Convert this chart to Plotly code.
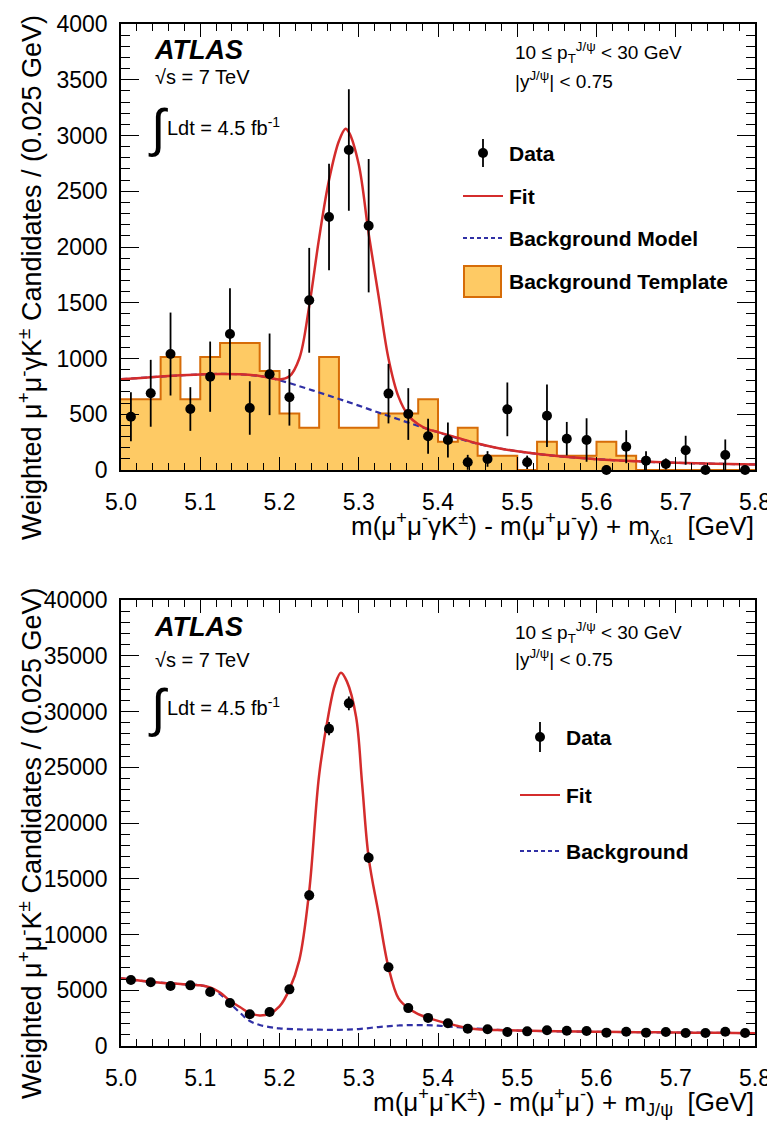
import plotly.graph_objects as go

# ---------------- data ----------------
bin_lo = 5.0
bin_w = 0.025
n_bins = 32

top_data = [478, 688, 1040, 547, 837, 1220, 556, 858, 652, 1522, 2269, 2870, 2191, 685, 502, 302,
            269, 69, 99, 544, 69, 487, 281, 269, 0, 209, 84, 54, 177, 0, 135, 0]
top_err = [220, 300, 372, 196, 315, 410, 240, 366, 254, 470, 478, 545, 598, 267, 232, 157,
           158, 67, 70, 241, 60, 280, 150, 195, 40, 148, 85, 50, 130, 40, 139, 40]
top_template = [634, 634, 1013, 634, 1013, 1140, 1140, 887, 507, 380, 1013, 380, 380, 507, 507, 634,
                253, 380, 127, 127, 0, 253, 127, 127, 253, 127, 0, 0, 0, 0, 0, 0]

top_fit_x = [5.0, 5.025, 5.05, 5.075, 5.1, 5.125, 5.15, 5.175, 5.19, 5.2, 5.2125, 5.225, 5.2375, 5.25,
             5.2625, 5.275, 5.2833, 5.2875, 5.3, 5.3125, 5.325, 5.3375, 5.35, 5.3625, 5.375, 5.3875,
             5.4, 5.425, 5.45, 5.475, 5.5, 5.55, 5.6, 5.65, 5.7, 5.75, 5.8]
top_fit_y = [815, 826, 838, 849, 857, 862, 858, 843, 823, 812, 840, 1000, 1470, 2080,
             2600, 2950, 3060, 3030, 2740, 2120, 1560, 1000, 660, 490, 410, 365,
             340, 288, 238, 198, 168, 125, 97, 78, 65, 56, 50]
top_bkg_x = [5.0, 5.025, 5.05, 5.075, 5.1, 5.125, 5.15, 5.175, 5.19, 5.2, 5.225, 5.25, 5.275, 5.3,
             5.325, 5.35, 5.375, 5.4, 5.425, 5.45, 5.475, 5.5, 5.55, 5.6, 5.65, 5.7, 5.75, 5.8]
top_bkg_y = [815, 826, 838, 849, 857, 862, 858, 843, 823, 805, 752, 695, 637, 577,
             515, 455, 395, 338, 284, 236, 197, 168, 125, 97, 78, 65, 56, 50]

bot_data = [5920, 5710, 5380, 5440, 4840, 3860, 2840, 3050, 5080, 13510, 28460, 30730, 16890, 7060,
            3400, 2520, 2040, 1555, 1495, 1256, 1315, 1405, 1375, 1345, 1196, 1285, 1196, 1256,
            1166, 1166, 1285, 1166]
bot_err = [300, 300, 290, 290, 280, 260, 240, 250, 300, 450, 600, 620, 480, 330,
           230, 200, 180, 160, 160, 150, 150, 155, 155, 150, 145, 150, 145, 150, 145, 145, 150, 145]

bot_fit_x = [5.0, 5.025, 5.05, 5.075, 5.1, 5.1125, 5.125, 5.1375, 5.15, 5.1625, 5.175, 5.1875, 5.2,
             5.2125, 5.225, 5.2375, 5.25, 5.2625, 5.27, 5.2775, 5.285, 5.2966, 5.3042, 5.3125,
             5.325, 5.3375, 5.35, 5.3625, 5.375, 5.3875, 5.4, 5.4125, 5.425, 5.4375, 5.45, 5.475,
             5.5, 5.55, 5.6, 5.65, 5.7, 5.75, 5.8]
bot_fit_y = [6070, 5850, 5680, 5560, 5440, 5250, 4800, 4050, 3500, 2950, 2740, 2900, 3550,
             5080, 7700, 13900, 24300, 30000, 32400, 33480, 32700, 29530, 23560, 16900,
             11900, 7060, 4300, 3400, 2850, 2520, 2250, 2030, 1800, 1600, 1500, 1430,
             1380, 1320, 1270, 1240, 1210, 1180, 1150]
bot_bkg_x = [5.0, 5.025, 5.05, 5.075, 5.1, 5.1125, 5.125, 5.1375, 5.15, 5.1625, 5.175, 5.1875, 5.2,
             5.225, 5.25, 5.275, 5.3, 5.325, 5.35, 5.375, 5.4, 5.425, 5.45, 5.475, 5.5, 5.55, 5.6,
             5.65, 5.7, 5.75, 5.8]
bot_bkg_y = [6070, 5850, 5680, 5560, 5440, 5230, 4650, 3830, 2990, 2240, 1880, 1700, 1580,
             1490, 1460, 1450, 1520, 1700, 1840, 1880, 1820, 1680, 1560, 1450, 1380, 1320, 1270,
             1240, 1210, 1180, 1150]

# ---------------- styling ----------------
OFF = 8  # page body margin
W, H = 775 - OFF, 1126 - OFF
FONT = "Liberation Sans"
RED = "rgb(212,44,44)"
BLUE = "rgb(48,48,165)"
FILL = "rgb(254,202,100)"
EDGE = "rgb(214,108,8)"


def px(x):
    return (x - OFF) / W


def py(y):
    return 1 - (y - OFF) / H


edges = [bin_lo + bin_w * i for i in range(n_bins + 1)]
centers = [bin_lo + bin_w * (i + 0.5) for i in range(n_bins)]

fig = go.Figure()

# top panel
fig.add_trace(go.Scatter(x=edges, y=top_template + [top_template[-1]], mode="lines",
                         line=dict(shape="hv", color=EDGE, width=2), fill="tozeroy",
                         fillcolor=FILL, xaxis="x", yaxis="y", showlegend=False))
fig.add_trace(go.Scatter(x=top_bkg_x, y=top_bkg_y, mode="lines",
                         line=dict(shape="spline", color=BLUE, width=2.2, dash="6px,4px"),
                         xaxis="x", yaxis="y", showlegend=False))
fig.add_trace(go.Scatter(x=top_fit_x, y=top_fit_y, mode="lines",
                         line=dict(shape="spline", color=RED, width=2.5),
                         xaxis="x", yaxis="y", showlegend=False))
fig.add_trace(go.Scatter(x=centers, y=top_data, mode="markers",
                         marker=dict(color="black", size=10),
                         error_y=dict(type="data", array=top_err, color="black", thickness=1.8, width=0),
                         cliponaxis=False, xaxis="x", yaxis="y", showlegend=False))

# bottom panel
fig.add_trace(go.Scatter(x=bot_bkg_x, y=bot_bkg_y, mode="lines",
                         line=dict(shape="spline", color=BLUE, width=2.2, dash="6px,4px"),
                         xaxis="x2", yaxis="y2", showlegend=False))
fig.add_trace(go.Scatter(x=bot_fit_x, y=bot_fit_y, mode="lines",
                         line=dict(shape="spline", color=RED, width=2.5),
                         xaxis="x2", yaxis="y2", showlegend=False))
fig.add_trace(go.Scatter(x=centers, y=bot_data, mode="markers",
                         marker=dict(color="black", size=10),
                         error_y=dict(type="data", array=bot_err, color="black", thickness=1.8, width=0),
                         cliponaxis=False, xaxis="x2", yaxis="y2", showlegend=False))

tickfont = dict(family=FONT, size=23, color="black")
xcommon = dict(range=[5.0, 5.8], tick0=5.0, dtick=0.1, tickformat=".1f", ticks="inside",
               ticklen=13, tickwidth=1.3, tickcolor="black", showline=True, linecolor="black",
               linewidth=1.5, mirror="ticks", showgrid=False, zeroline=False, tickfont=tickfont,
               minor=dict(dtick=0.02, tick0=5.0, ticks="inside", ticklen=7, tickwidth=1.2,
                          tickcolor="black", showgrid=False),
               ticklabelstandoff=11, automargin=False, domain=[px(121), px(755)], fixedrange=True)
ycommon = dict(ticks="inside", ticklen=18, tickwidth=1.3, tickcolor="black", showline=True,
               linecolor="black", linewidth=1.5, mirror="ticks", showgrid=False, zeroline=False,
               tickfont=tickfont, tickformat="d", automargin=False, ticklabelstandoff=7,
               fixedrange=True)

fig.update_layout(
    width=W, height=H, margin=dict(l=0, r=0, t=0, b=0),
    paper_bgcolor="white", plot_bgcolor="white",
    font=dict(family=FONT, color="black"),
    xaxis=dict(**xcommon, anchor="y"),
    yaxis=dict(**ycommon, range=[0, 4000], dtick=500,
               minor=dict(dtick=100, ticks="inside", ticklen=9, tickwidth=1.2, tickcolor="black",
                          showgrid=False),
               domain=[py(470), py(24)], anchor="x"),
    xaxis2=dict(**xcommon, anchor="y2"),
    yaxis2=dict(**ycommon, range=[0, 40000], dtick=5000,
                minor=dict(dtick=1000, ticks="inside", ticklen=9, tickwidth=1.2, tickcolor="black",
                           showgrid=False),
                domain=[py(1046), py(600)], anchor="x2"),
)

ann = []


def text(x, y, s, size=17, xanchor="left", yanchor="middle", angle=0):
    ann.append(dict(x=px(x), y=py(y), xref="paper", yref="paper", text=s, showarrow=False,
                    xanchor=xanchor, yanchor=yanchor, textangle=angle,
                    font=dict(family=FONT, size=size, color="black")))


# axis titles
text(30, 278, "Weighted μ<sup>+</sup>μ<sup>-</sup>γK<sup>±</sup> Candidates / (0.025 GeV)",
     size=27, xanchor="center", angle=-90)
text(30, 843, "Weighted μ<sup>+</sup>μ<sup>-</sup>K<sup>±</sup> Candidates / (0.025 GeV)",
     size=27, xanchor="center", angle=-90)
text(756, 527, "m(μ<sup>+</sup>μ<sup>-</sup>γK<sup>±</sup>) - m(μ<sup>+</sup>μ<sup>-</sup>γ) + m<sub>χ<sub>c1</sub></sub>  [GeV]",
     size=26, xanchor="right")
text(756, 1102, "m(μ<sup>+</sup>μ<sup>-</sup>K<sup>±</sup>) - m(μ<sup>+</sup>μ<sup>-</sup>) + m<sub>J/ψ</sub>  [GeV]",
     size=26, xanchor="right")

# labels in panels
for (y_atlas, y_rs, y_int, y_pt, y_y) in [(50, 77, 126, 52, 80), (627, 660, 706, 632, 658)]:
    text(152, y_atlas, "<b><i>ATLAS</i></b>", size=27)
    text(153, y_rs, "√s = 7 TeV", size=20)
    text(146, y_int + 2, "∫", size=52)
    text(165, y_int, "Ldt = 4.5 fb<sup>-1</sup>", size=20)
    text(513, y_pt, "10 ≤ p<sub>T</sub><sup>J/ψ</sup> < 30 GeV", size=19)
    text(513, y_y, "|y<sup>J/ψ</sup>| < 0.75", size=19)

# legends
shapes = []


def data_sym(x, y, h):
    shapes.append(dict(type="line", xref="paper", yref="paper", x0=px(x), x1=px(x),
                       y0=py(y - h), y1=py(y + h), line=dict(color="black", width=1.8)))
    shapes.append(dict(type="circle", xref="paper", yref="paper", x0=px(x - 5), x1=px(x + 5),
                       y0=py(y + 5), y1=py(y - 5), fillcolor="black", line=dict(color="black", width=0)))


def line_sym(x0, x1, y, color, dash="solid"):
    shapes.append(dict(type="line", xref="paper", yref="paper", x0=px(x0), x1=px(x1),
                       y0=py(y), y1=py(y), line=dict(color=color, width=2.2, dash=dash)))


data_sym(483, 153, 14)
text(507, 153, "<b>Data</b>", size=21)
line_sym(463, 503, 196, RED)
text(507, 196, "<b>Fit</b>", size=21)
line_sym(463, 503, 238, BLUE, "4px,3px")
text(507, 238, "<b>Background Model</b>", size=21)
shapes.append(dict(type="rect", xref="paper", yref="paper", x0=px(464), x1=px(501),
                   y0=py(297), y1=py(266), fillcolor=FILL, line=dict(color=EDGE, width=2)))
text(507, 281, "<b>Background Template</b>", size=21)

data_sym(540, 737, 15)
text(564, 737, "<b>Data</b>", size=21)
line_sym(520, 560, 795, RED)
text(564, 795, "<b>Fit</b>", size=21)
line_sym(520, 560, 851, BLUE, "4px,3px")
text(564, 851, "<b>Background</b>", size=21)

fig.update_layout(annotations=ann, shapes=shapes)
fig.write_html("out.html")
